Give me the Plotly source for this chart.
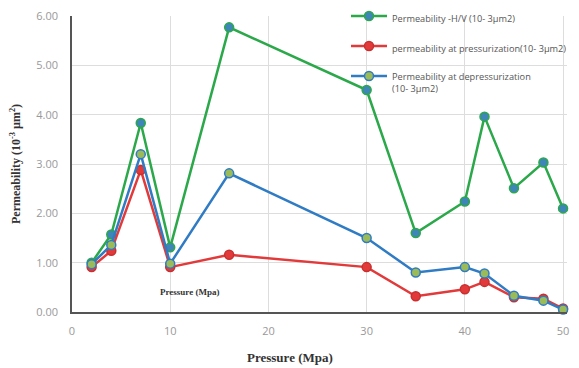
import plotly.graph_objects as go

pressure = [2, 4, 7, 10, 16, 30, 35, 40, 42, 45, 48, 50]
perm_hv = [1.00, 1.57, 3.83, 1.31, 5.77, 4.50, 1.60, 2.24, 3.96, 2.51, 3.03, 2.10]
perm_press = [0.91, 1.24, 2.88, 0.91, 1.16, 0.91, 0.32, 0.46, 0.61, 0.30, 0.27, 0.07]
perm_depress = [0.97, 1.36, 3.20, 0.98, 2.81, 1.50, 0.80, 0.91, 0.78, 0.33, 0.23, 0.05]

names = [
    "Permeability -H/V (10- 3µm2)",
    "permeability at pressurization(10- 3µm2)",
    "Permeability at depressurization<br>(10- 3µm2)",
]

fig = go.Figure()
fig.add_trace(go.Scatter(
    x=pressure, y=perm_hv, mode="lines+markers", name=names[0], legendgroup="a",
    line=dict(color="#2BA84A", width=2.5), cliponaxis=False,
    marker=dict(size=9, color="#3E86B8", line=dict(color="#2BA84A", width=1.5)),
))
fig.add_trace(go.Scatter(
    x=pressure, y=perm_press, mode="lines+markers", name=names[1], legendgroup="b",
    line=dict(color="#E23A3A", width=2.5), cliponaxis=False,
    marker=dict(size=9, color="#E23A3A", line=dict(color="#C83030", width=1.5)),
))
fig.add_trace(go.Scatter(
    x=pressure, y=perm_depress, mode="lines+markers", name=names[2], legendgroup="c",
    line=dict(color="#2F7BC4", width=2.5), cliponaxis=False,
    marker=dict(size=9, color="#9BBB59", line=dict(color="#2F7BC4", width=1.5)),
))

PW = 495.0
fig.add_annotation(
    x=12.0, y=0.40, text="<b>Pressure (Mpa)</b>", showarrow=False,
    font=dict(family="Liberation Serif", size=9, color="#333333"),
)
fig.add_annotation(
    xref="paper", yref="paper", x=(290 - 72) / PW, y=-(357 - 312) / 296,
    text="<b>Pressure (Mpa)</b>", showarrow=False, yanchor="middle",
    font=dict(family="Liberation Serif", size=13, color="#333333"),
)
fig.add_annotation(
    xref="paper", yref="paper", x=-(72 - 15) / PW, y=0.5,
    text="<b>Permeability (10<sup>-3</sup> µm<sup>2</sup>)</b>", showarrow=False,
    textangle=-90, xanchor="center",
    font=dict(family="Liberation Serif", size=12, color="#333333"),
)

# page body has an 8px default margin, so the figure is 8px smaller
fig.update_layout(
    width=571, height=360,
    margin=dict(l=64, r=12, t=8, b=56, autoexpand=False),
    paper_bgcolor="white", plot_bgcolor="white",
    font=dict(family="Open Sans", size=10, color="#666666"),
    showlegend=True,
    legend=dict(
        x=(346 - 72) / PW, y=1.042, xanchor="left", yanchor="top",
        bgcolor="rgba(255,255,255,0)", valign="top",
        font=dict(family="Open Sans", size=9.2, color="#555555"),
        tracegroupgap=11, itemwidth=36,
    ),
    xaxis=dict(
        range=[0, 50.4], tickvals=[0, 10, 20, 30, 40, 50],
        showgrid=True, gridcolor="#DDDDDD", gridwidth=1,
        showline=True, linecolor="#555555", linewidth=1.5,
        zeroline=False, ticks="", automargin=False, ticklabelstandoff=8,
        ticklabeloverflow="allow",
        tickfont=dict(family="Open Sans", size=11, color="#999999"),
    ),
    yaxis=dict(
        range=[0, 6.0], tickvals=[0, 1, 2, 3, 4, 5, 6], tickformat=".2f",
        showgrid=True, gridcolor="#DDDDDD", gridwidth=1,
        showline=True, linecolor="#555555", linewidth=1.5,
        zeroline=False, ticks="", automargin=False, ticklabelstandoff=10,
        ticklabeloverflow="allow",
        tickfont=dict(family="Open Sans", size=11, color="#999999"),
    ),
)

fig.write_html("out.html")
